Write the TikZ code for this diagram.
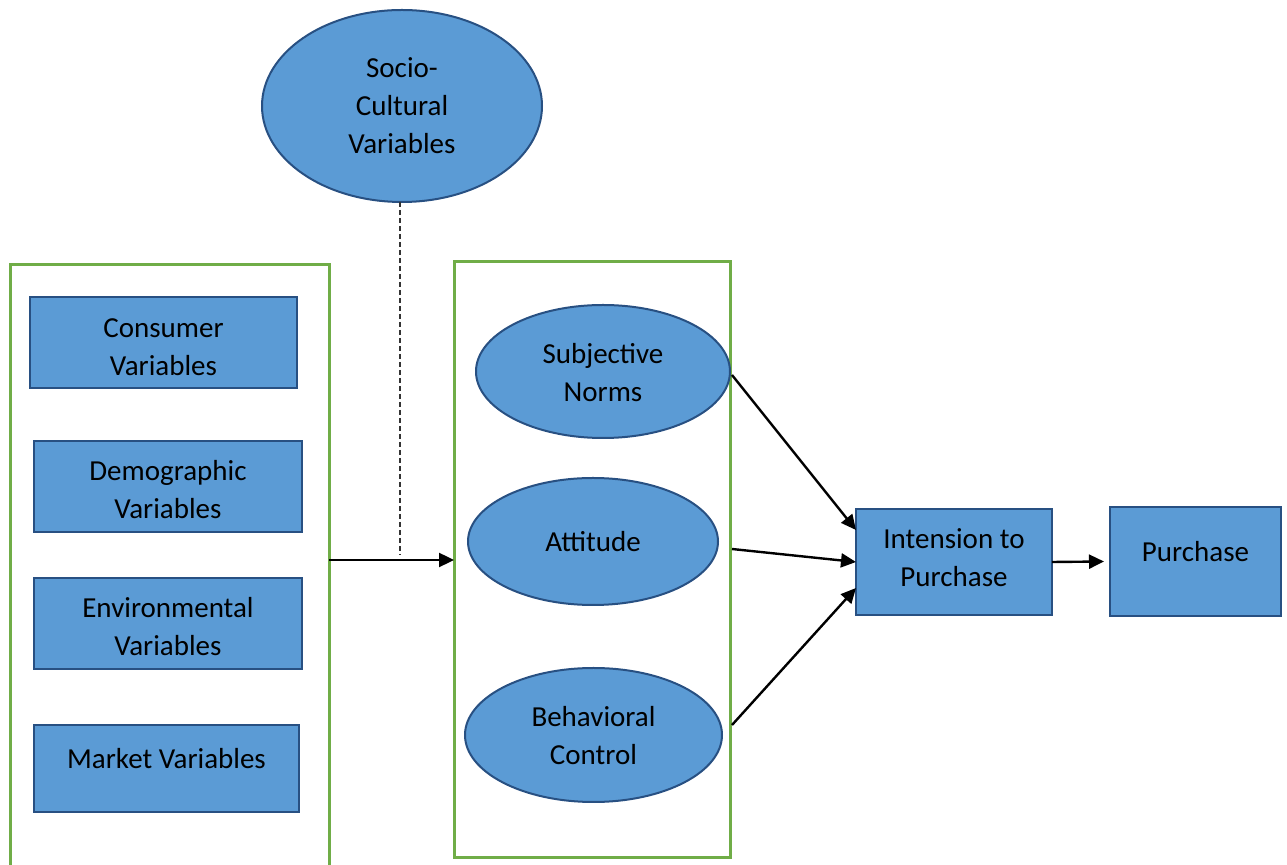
\documentclass[tikz,border=0pt]{standalone}
\usepackage{fontspec}
\setmainfont{Carlito}
\usetikzlibrary{shapes.geometric,arrows.meta}
\definecolor{boxfill}{RGB}{91,155,213}
\definecolor{boxline}{RGB}{40,80,130}
\definecolor{frameg}{RGB}{112,173,71}
\newcommand\shiftedtext[2]{\raisebox{#1}[\height][\depth]{\begin{tabular}{@{}c@{}}#2\end{tabular}}}
\tikzset{
  bluebox/.style={draw=boxline, fill=boxfill, line width=1pt, inner sep=0pt, outer sep=0pt, align=center,
    font=\fontsize{14.5}{19}\selectfont},
  blueell/.style={bluebox, ellipse},
  frame/.style={draw=frameg, line width=1.5pt},
  conn/.style={line width=1.2pt, -{Triangle[length=7.5pt,width=7pt]}},
  dashconn/.style={line width=0.7pt, draw=black!80, dash pattern=on 2.5pt off 1.5pt}
}
\begin{document}
\begin{tikzpicture}[x=0.5pt,y=-0.5pt]
\useasboundingbox (0,0) rectangle (1287,865);
% frames
\draw[frame] (10,866) -- (10,265) -- (329,265) -- (329,866);
\draw[frame] (454,262) rectangle (730,858);
\coordinate (lframeE) at (329,560);
\coordinate (rframeW) at (454,560);
\coordinate (rframeSN) at (732,375);
\coordinate (rframeAT) at (732,549);
\coordinate (rframeBC) at (732,725);
% left boxes
\node[bluebox, minimum width=133.5pt, minimum height=45.5pt] (cons) at (163.5,342.5) {\shiftedtext{-3pt}{Consumer\\Variables}};
\node[bluebox, minimum width=134pt, minimum height=45.5pt] (demo) at (168,486.5) {\shiftedtext{-2.5pt}{Demographic\\Variables}};
\node[bluebox, minimum width=134pt, minimum height=45.5pt] (env) at (168,623.5) {\shiftedtext{-2.5pt}{Environmental\\Variables}};
\node[bluebox, minimum width=132.5pt, minimum height=43.5pt] (mkt) at (166.5,768.5) {\shiftedtext{4pt}{Market Variables}};
% ellipses
\node[blueell, minimum width=140pt, minimum height=96pt] (socio) at (402,106) {Socio-\\Cultural\\Variables};
\node[blueell, minimum width=127pt, minimum height=66.5pt] (sn) at (603,371.5) {\shiftedtext{-1.5pt}{Subjective\\Norms}};
\node[blueell, minimum width=125pt, minimum height=63.5pt] (att) at (593,541.5) {Attitude};
\node[blueell, minimum width=128.5pt, minimum height=67pt] (bc) at (593.5,735) {\shiftedtext{-1.5pt}{Behavioral\\Control}};
% right boxes
\node[bluebox, minimum width=98pt, minimum height=53pt] (int) at (954,562) {\shiftedtext{1pt}{Intension to\\Purchase}};
\node[bluebox, minimum width=85.5pt, minimum height=54.5pt] (pur) at (1195.5,561.5) {\shiftedtext{3.7pt}{Purchase}};
% connectors
\coordinate (dashEnd) at (400,555);
\draw[dashconn] (socio.south -| dashEnd) -- (dashEnd);
\draw[conn] (lframeE) -- (rframeW);
\draw[conn] (rframeSN) -- (int.west |- 0,530);
\draw[conn] (rframeAT) -- (int.west |- 0,562);
\draw[conn] (rframeBC) -- (int.west |- 0,588);
\draw[conn] (int.east) -- ([xshift=-3pt]pur.west);
\end{tikzpicture}
\end{document}
